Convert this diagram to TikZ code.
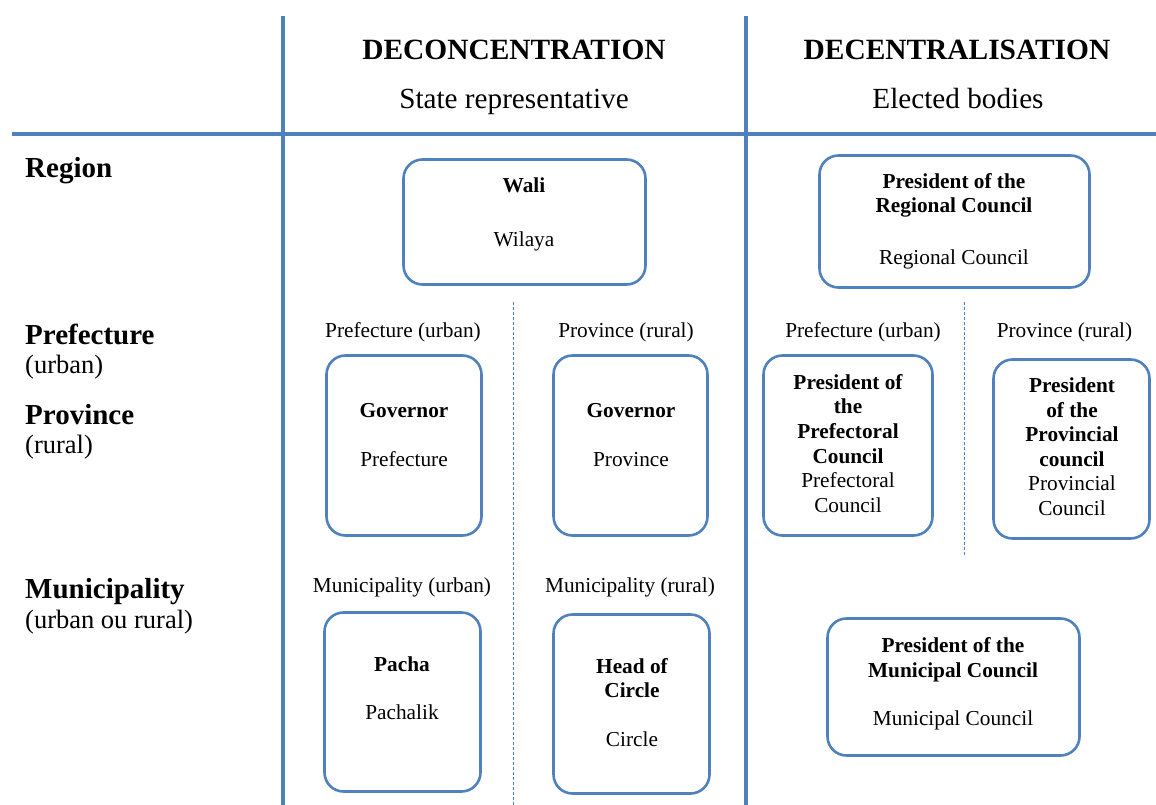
\documentclass[tikz,border=0pt]{standalone}
\usepackage{fontspec}
\setmainfont{Liberation Serif}
\definecolor{ruleblue}{HTML}{4F81BD}
\begin{document}
\begin{tikzpicture}[x=1pt,y=-1pt,
  grid/.style={draw=ruleblue,line width=3.2pt},
  divider/.style={draw=ruleblue,line width=1pt,dash pattern=on 3pt off 2pt},
  unit/.style={draw=ruleblue,line width=2.6pt,rounded corners=19pt,inner sep=0pt},
  head/.style={anchor=base,inner sep=0pt,font=\fontsize{29.4}{33}\selectfont\bfseries},
  headsub/.style={anchor=base,inner sep=0pt,font=\fontsize{29.2}{33}\selectfont},
  level/.style={anchor=base west,inner sep=0pt,font=\fontsize{29}{32}\selectfont\bfseries},
  levelsub/.style={anchor=base west,inner sep=0pt,font=\fontsize{26.5}{30}\selectfont},
  tag/.style={anchor=base,inner sep=0pt,font=\fontsize{21.3}{24.6}\selectfont},
  title/.style={anchor=base,inner sep=0pt,font=\fontsize{21.3}{24.6}\selectfont\bfseries},
  body/.style={anchor=base,inner sep=0pt,font=\fontsize{21.3}{24.6}\selectfont},
]
\useasboundingbox (0,0) rectangle (1156,805);

% table rules
\coordinate (v1top) at (283,16);  \coordinate (v1bot) at (283,805);
\coordinate (v2top) at (746,16);  \coordinate (v2bot) at (746,805);
\coordinate (hl) at (12,134);     \coordinate (hr) at (1156,134);
\draw[grid] (v1top) -- (v1bot);
\draw[grid] (v2top) -- (v2bot);
\draw[grid] (hl) -- (hr);

% dashed dividers between urban and rural
\coordinate (d1top) at (513,302); \coordinate (d1bot) at (513,805);
\coordinate (d2top) at (964,302); \coordinate (d2bot) at (964,555);
\draw[divider] (d1top) -- (d1bot);
\draw[divider] (d2top) -- (d2bot);

% column headings
\node[head] (hdec) at (514,60) {DECONCENTRATION};
\node[headsub] (hdecs) at (514,109) {State representative};
\node[head] (hcen) at (957,60) {DECENTRALISATION};
\node[headsub] (hcens) at (958,109) {Elected bodies};

% level labels
\node[level] (lreg) at (25,178) {Region};
\node[level] (lpref) at (25,344) {Prefecture};
\node[levelsub] (lprefs) at (25,373) {(urban)};
\node[level] (lprov) at (25,424) {Province};
\node[levelsub] (lprovs) at (25,453) {(rural)};
\node[level] (lmun) at (25,598) {Municipality};
\node[levelsub] (lmuns) at (25,628) {(urban ou rural)};

% boxes
\node[unit,minimum width=242pt,minimum height=125pt] (wali) at (524.5,222) {};
\node[unit,minimum width=270pt,minimum height=132pt] (regc) at (954.5,221.5) {};
\node[unit,minimum width=155pt,minimum height=180pt] (govp) at (404,445.5) {};
\node[unit,minimum width=154pt,minimum height=180pt] (govr) at (630.5,445.5) {};
\node[unit,minimum width=169pt,minimum height=180pt] (prefc) at (848,445.5) {};
\node[unit,minimum width=156pt,minimum height=179pt] (provc) at (1071.5,449) {};
\node[unit,minimum width=156pt,minimum height=179pt] (pacha) at (402.5,702) {};
\node[unit,minimum width=156pt,minimum height=179pt] (circ) at (631.5,704) {};
\node[unit,minimum width=252pt,minimum height=137pt] (munc) at (953.5,687) {};

% region row
\node[title] (wali1) at (524,193) {Wali};
\node[body] (wali2) at (524,246) {Wilaya};
\node[title] (regc1) at (954,189) {President of the};
\node[title] (regc2) at (954,213) {Regional Council};
\node[body] (regc3) at (954,264) {Regional Council};

% prefecture / province row
\node[tag] (tpu) at (403,337) {Prefecture (urban)};
\node[tag] (tpr) at (626,337) {Province (rural)};
\node[tag] (tcu) at (863,337) {Prefecture (urban)};
\node[tag] (tcr) at (1064.5,337) {Province (rural)};

\node[title] (govp1) at (404,417) {Governor};
\node[body] (govp2) at (404,466) {Prefecture};
\node[title] (govr1) at (631,417) {Governor};
\node[body] (govr2) at (631,466) {Province};

\node[title] (prefc1) at (848,389) {President of};
\node[title] (prefc2) at (848,413) {the};
\node[title] (prefc3) at (848,438) {Prefectoral};
\node[title] (prefc4) at (848,463) {Council};
\node[body] (prefc5) at (848,487) {Prefectoral};
\node[body] (prefc6) at (848,512) {Council};

\node[title] (provc1) at (1072,392) {President};
\node[title] (provc2) at (1072,417) {of the};
\node[title] (provc3) at (1072,441) {Provincial};
\node[title] (provc4) at (1072,466) {council};
\node[body] (provc5) at (1072,490) {Provincial};
\node[body] (provc6) at (1072,515) {Council};

% municipality row
\node[tag] (tmu) at (402,592) {Municipality (urban)};
\node[tag] (tmr) at (630,592) {Municipality (rural)};

\node[title] (pacha1) at (402,671) {Pacha};
\node[body] (pacha2) at (402,719) {Pachalik};
\node[title] (circ1) at (632,673) {Head of};
\node[title] (circ2) at (632,697) {Circle};
\node[body] (circ3) at (632,746) {Circle};

\node[title] (munc1) at (953,652) {President of the};
\node[title] (munc2) at (953,677) {Municipal Council};
\node[body] (munc3) at (953,725) {Municipal Council};
\end{tikzpicture}
\end{document}
